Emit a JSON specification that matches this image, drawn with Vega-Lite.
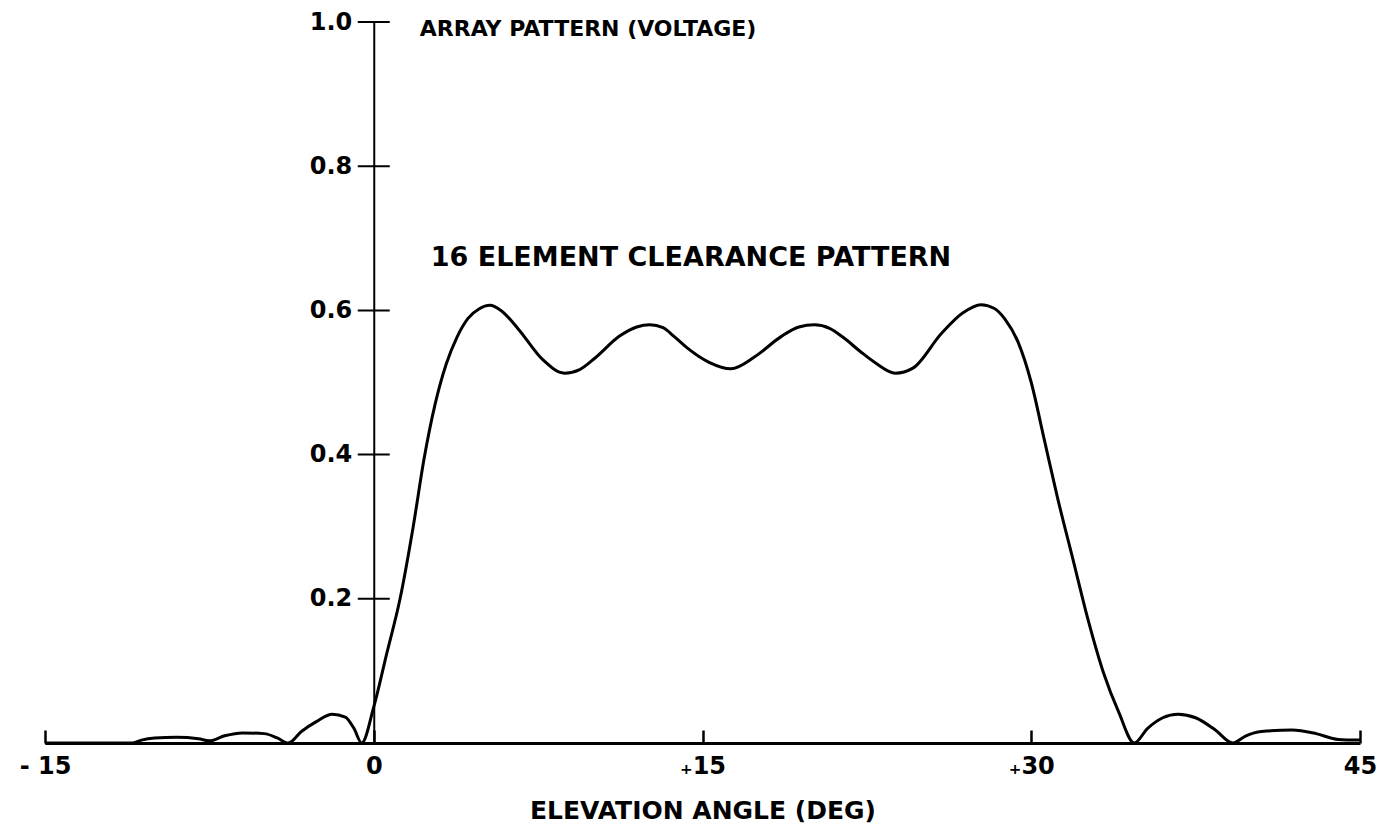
{
  "$schema": "https://vega.github.io/schema/vega-lite/v6.json",
  "width": 1315,
  "height": 721,
  "autosize": {"type": "none"},
  "padding": {"left": 45, "top": 22, "right": 22, "bottom": 91},
  "background": "white",
  "config": {
    "view": {"stroke": null},
    "font": "DejaVu Sans",
    "axis": {"grid": false, "labelFont": "DejaVu Sans", "labelFontWeight": "bold", "labelColor": "black", "titleFont": "DejaVu Sans", "titleFontWeight": "bold", "titleColor": "black"}
  },
  "layer": [
    {
      "data": {"values": [
        {"angle": -15, "voltage": 0}, {"angle": -11, "voltage": 0}, {"angle": -10.6, "voltage": 0.004},
        {"angle": -10, "voltage": 0.007}, {"angle": -9, "voltage": 0.008}, {"angle": -8, "voltage": 0.006},
        {"angle": -7.5, "voltage": 0.003}, {"angle": -6.8, "voltage": 0.01}, {"angle": -6, "voltage": 0.014},
        {"angle": -5, "voltage": 0.013}, {"angle": -4.4, "voltage": 0.007}, {"angle": -3.9, "voltage": 0},
        {"angle": -3.3, "voltage": 0.016}, {"angle": -2.6, "voltage": 0.03}, {"angle": -1.9, "voltage": 0.04},
        {"angle": -1.3, "voltage": 0.036}, {"angle": -0.9, "voltage": 0.02}, {"angle": -0.55, "voltage": 0},
        {"angle": 0, "voltage": 0.05}, {"angle": 0.6, "voltage": 0.125}, {"angle": 1.2, "voltage": 0.2},
        {"angle": 1.8, "voltage": 0.3}, {"angle": 2.3, "voltage": 0.395}, {"angle": 2.8, "voltage": 0.47},
        {"angle": 3.3, "voltage": 0.525}, {"angle": 3.8, "voltage": 0.563}, {"angle": 4.3, "voltage": 0.589},
        {"angle": 4.8, "voltage": 0.602}, {"angle": 5.3, "voltage": 0.607}, {"angle": 5.8, "voltage": 0.6},
        {"angle": 6.6, "voltage": 0.574}, {"angle": 7.7, "voltage": 0.532}, {"angle": 8.7, "voltage": 0.513},
        {"angle": 9.4, "voltage": 0.518}, {"angle": 10.1, "voltage": 0.534}, {"angle": 11.2, "voltage": 0.564},
        {"angle": 12.0, "voltage": 0.577}, {"angle": 12.6, "voltage": 0.58}, {"angle": 13.2, "voltage": 0.576},
        {"angle": 13.7, "voltage": 0.564}, {"angle": 14.3, "voltage": 0.548}, {"angle": 15.3, "voltage": 0.528},
        {"angle": 16.3, "voltage": 0.519}, {"angle": 17.4, "voltage": 0.536}, {"angle": 18.6, "voltage": 0.564},
        {"angle": 19.4, "voltage": 0.577}, {"angle": 20.1, "voltage": 0.58}, {"angle": 20.8, "voltage": 0.575},
        {"angle": 21.4, "voltage": 0.563}, {"angle": 22.2, "voltage": 0.543}, {"angle": 22.9, "voltage": 0.527},
        {"angle": 23.8, "voltage": 0.513}, {"angle": 24.6, "voltage": 0.52},
        {"angle": 25.9, "voltage": 0.568}, {"angle": 26.9, "voltage": 0.597}, {"angle": 27.7, "voltage": 0.608},
        {"angle": 28.3, "voltage": 0.603}, {"angle": 28.8, "voltage": 0.588}, {"angle": 29.4, "voltage": 0.556},
        {"angle": 30.0, "voltage": 0.5}, {"angle": 30.6, "voltage": 0.42}, {"angle": 31.2, "voltage": 0.34},
        {"angle": 31.9, "voltage": 0.255}, {"angle": 32.6, "voltage": 0.17}, {"angle": 33.3, "voltage": 0.097},
        {"angle": 34.0, "voltage": 0.042}, {"angle": 34.7, "voltage": 0}, {"angle": 35.3, "voltage": 0.02},
        {"angle": 36.0, "voltage": 0.035}, {"angle": 36.7, "voltage": 0.04}, {"angle": 37.5, "voltage": 0.035},
        {"angle": 38.4, "voltage": 0.018}, {"angle": 39.2, "voltage": 0}, {"angle": 39.8, "voltage": 0.01},
        {"angle": 40.5, "voltage": 0.016}, {"angle": 41.9, "voltage": 0.018}, {"angle": 43.0, "voltage": 0.013},
        {"angle": 44.0, "voltage": 0.005}, {"angle": 45.0, "voltage": 0.004}
      ]},
      "mark": {"type": "line", "color": "black", "strokeWidth": 3, "interpolate": "monotone"},
      "encoding": {
        "x": {
          "field": "angle", "type": "quantitative",
          "scale": {"domain": [-15, 45], "nice": false, "zero": false},
          "axis": {
            "values": [-15, 0, 15, 30, 45],
            "labelExpr": "datum.value == 15 ? '₊15' : datum.value == 30 ? '₊30' : datum.value == -15 ? '- 15' : datum.label",
            "tickSize": -13, "tickWidth": 2.5, "tickColor": "black",
            "domainWidth": 3, "domainColor": "black",
            "labelFontSize": 24, "labelPadding": 24, "labelFlush": false, "labelOverlap": false,
            "title": "ELEVATION ANGLE (DEG)", "titleFontSize": 25, "titlePadding": 20
          }
        },
        "y": {
          "field": "voltage", "type": "quantitative",
          "scale": {"domain": [0, 1], "nice": false},
          "axis": {
            "values": [0.2, 0.4, 0.6, 0.8, 1.0],
            "format": ".1f",
            "offset": -328.75,
            "ticks": false,
            "domainWidth": 2, "domainColor": "black",
            "labelFontSize": 24, "labelPadding": 22,
            "title": null
          }
        }
      }
    },
    {
      "data": {"values": [{"v": 0.2}, {"v": 0.4}, {"v": 0.6}, {"v": 0.8}, {"v": 1.0}]},
      "mark": {"type": "rule", "color": "black", "strokeWidth": 2},
      "encoding": {
        "x": {"datum": -0.73, "type": "quantitative"},
        "x2": {"datum": 0.73},
        "y": {"field": "v", "type": "quantitative"}
      }
    },
    {
      "data": {"values": [{"label": "ARRAY PATTERN (VOLTAGE)"}]},
      "mark": {"type": "text", "align": "left", "baseline": "middle", "fontSize": 22, "fontWeight": "bold", "font": "DejaVu Sans", "color": "black"},
      "encoding": {
        "text": {"field": "label"},
        "x": {"datum": 2.1, "type": "quantitative"},
        "y": {"datum": 0.99, "type": "quantitative"}
      }
    },
    {
      "data": {"values": [{"label": "16 ELEMENT CLEARANCE PATTERN"}]},
      "mark": {"type": "text", "align": "left", "baseline": "middle", "fontSize": 27, "fontWeight": "bold", "font": "DejaVu Sans", "color": "black"},
      "encoding": {
        "text": {"field": "label"},
        "x": {"datum": 2.6, "type": "quantitative"},
        "y": {"datum": 0.673, "type": "quantitative"}
      }
    }
  ]
}
